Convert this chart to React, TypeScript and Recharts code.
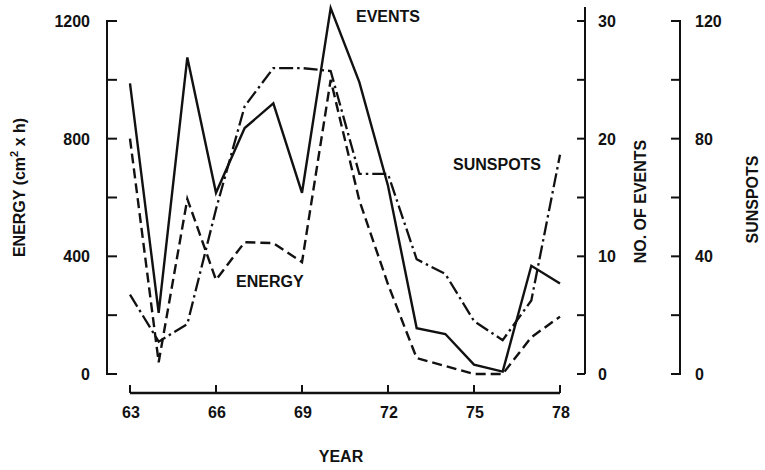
import React from 'react';
import { LineChart, Line, XAxis, YAxis, ReferenceLine, Label } from 'recharts';

const years = [63, 64, 65, 66, 67, 68, 69, 70, 71, 72, 73, 74, 75, 76, 77, 78];
const events = [24.7, 5.2, 26.9, 15.4, 20.9, 23, 15.4, 31.1, 24.8, 16, 3.9, 3.4, 0.8, 0.2, 9.2, 7.7];
const energy = [800, 40, 595, 320, 448, 445, 380, 1000, 590, 305, 54, 27, 0, 0, 125, 195];
const sunspots = [27, 11, 17, 56, 91, 104, 104, 103, 68, 68, 39, 34, 18, 11.5, 25, 74.5];

const yearTicks = [63, 66, 69, 72, 75, 78];
const energyTicks = [0, 200, 400, 600, 800, 1000, 1200];
const energyLabels = [0, 400, 800, 1200];
const eventTicks = [0, 5, 10, 15, 20, 25, 30];
const eventLabels = [0, 10, 20, 30];
const sunspotTicks = [0, 20, 40, 60, 80, 100, 120];
const sunspotLabels = [0, 40, 80, 120];

// axis ranges (the frame rises a little above the top labelled tick)
const energyDomain = [0, 1247.6];
const eventsDomain = [0, 31.19];
const sunDomain = [0, 124.76];
const xAxisBase = -64.6;

const data = years.map((y, i) => ({ year: y, events: events[i], energy: energy[i], sunspots: sunspots[i] }));

const INK = '#111';
const FONT = '"Liberation Sans", Arial, Helvetica, sans-serif';
const txt = { fontFamily: FONT, fontWeight: 700, fontSize: 16, fill: INK } as const;

const XTick = (p: any) => {
  const { x, y, payload } = p;
  return (
    <g>
      <line x1={x} x2={x} y1={y + 11} y2={y + 19} stroke={INK} strokeWidth={2} />
      <text x={x + 1} y={y + 44} textAnchor="middle" {...txt}>{payload.value}</text>
    </g>
  );
};

const EnergyTick = (p: any) => {
  const { x, y, payload } = p;
  return (
    <g>
      {payload.value === 1200 && <line x1={x} x2={x} y1={y - 16} y2={y - 1} stroke="#fff" strokeWidth={5} />}
      <line x1={x - 1} x2={x + 10} y1={y} y2={y} stroke={INK} strokeWidth={2} />
      {energyLabels.includes(payload.value) && (
        <text x={x - 17} y={y + 6} textAnchor="end" {...txt}>{payload.value}</text>
      )}
    </g>
  );
};

const EventTick = (p: any) => {
  const { x, y, payload } = p;
  return (
    <g>
      <line x1={x - 8} x2={x} y1={y} y2={y} stroke={INK} strokeWidth={2} />
      {eventLabels.includes(payload.value) && (
        <text x={x + 13} y={y + 6} textAnchor="start" {...txt}>{payload.value}</text>
      )}
    </g>
  );
};

const SunTick = (p: any) => {
  const { x, y, payload } = p;
  return (
    <g>
      {payload.value === 120 && <line x1={x} x2={x} y1={y - 16} y2={y - 1} stroke="#fff" strokeWidth={5} />}
      <line x1={x - 9} x2={x + 1} y1={y} y2={y} stroke={INK} strokeWidth={2} />
      {sunspotLabels.includes(payload.value) && (
        <text x={x + 15} y={y + 6} textAnchor="start" {...txt}>{payload.value}</text>
      )}
    </g>
  );
};

const EnergyTitle = (p: any) => {
  const vb = p.viewBox || {};
  const cx = vb.x + 25;
  const cy = vb.y + vb.height / 2 - 3;
  return (
    <text x={cx} y={cy} textAnchor="middle" transform={`rotate(-90 ${cx} ${cy})`} {...txt}>
      ENERGY (cm<tspan fontSize={11} dy={-7}>2</tspan><tspan dy={7}> x h)</tspan>
    </text>
  );
};

const EventsTitle = (p: any) => {
  const vb = p.viewBox || {};
  const cx = vb.x + 61;
  const cy = vb.y + vb.height / 2 + 11;
  return (
    <text x={cx} y={cy} textAnchor="middle" transform={`rotate(-90 ${cx} ${cy})`} {...txt}>NO. OF EVENTS</text>
  );
};

const SunTitle = (p: any) => {
  const vb = p.viewBox || {};
  const cx = vb.x + 78;
  const cy = vb.y + vb.height / 2 + 9;
  return (
    <text x={cx} y={cy} textAnchor="middle" transform={`rotate(-90 ${cx} ${cy})`} {...txt}>SUNSPOTS</text>
  );
};

const YearTitle = (p: any) => {
  const vb = p.viewBox || {};
  const cx = vb.x + vb.width / 2 - 5;
  const cy = vb.y + 88;
  return <text x={cx} y={cy} textAnchor="middle" {...txt}>YEAR</text>;
};

export default function App() {
  return (
    <div style={{ position: 'absolute', left: 0, top: 0, width: 765, height: 470, background: '#fff' }}>
      <LineChart width={765} height={470} data={data} margin={{ top: 7, right: 0, bottom: 0, left: 0 }}>
        <XAxis
          dataKey="year"
          type="number"
          domain={[63, 78]}
          ticks={yearTicks}
          padding={{ left: 23, right: 25 }}
          axisLine={false}
          tickLine={false}
          tickSize={0}
          tickMargin={0}
          height={96}
          tick={<XTick />}
          interval={0}
        >
          <Label content={<YearTitle />} />
        </XAxis>
        <YAxis
          yAxisId="energy"
          orientation="left"
          width={107}
          domain={energyDomain}
          ticks={energyTicks}
          axisLine={{ stroke: INK, strokeWidth: 2 }}
          tickLine={false}
          tickSize={0}
          tickMargin={0}
          tick={<EnergyTick />}
          interval={0}
        >
          <Label content={<EnergyTitle />} />
        </YAxis>
        <YAxis
          yAxisId="events"
          orientation="right"
          width={95}
          domain={eventsDomain}
          ticks={eventTicks}
          axisLine={{ stroke: INK, strokeWidth: 2 }}
          tickLine={false}
          tickSize={0}
          tickMargin={0}
          tick={<EventTick />}
          interval={0}
        >
          <Label content={<EventsTitle />} />
        </YAxis>
        <YAxis
          yAxisId="sun"
          orientation="right"
          width={85}
          domain={sunDomain}
          ticks={sunspotTicks}
          axisLine={{ stroke: INK, strokeWidth: 2 }}
          tickLine={false}
          tickSize={0}
          tickMargin={0}
          tick={<SunTick />}
          interval={0}
        >
          <Label content={<SunTitle />} />
        </YAxis>
        <ReferenceLine
          yAxisId="energy"
          segment={[{ x: 63, y: xAxisBase }, { x: 78, y: xAxisBase }]}
          stroke={INK}
          strokeWidth={2.5}
          ifOverflow="visible"
        />
        <Line yAxisId="sun" dataKey="sunspots" type="linear" stroke={INK} strokeWidth={2.3} strokeDasharray="14 4 2.5 4" dot={false} isAnimationActive={false} />
        <Line yAxisId="energy" dataKey="energy" type="linear" stroke={INK} strokeWidth={2.4} strokeDasharray="10 5" dot={false} isAnimationActive={false} />
        <Line yAxisId="events" dataKey="events" type="linear" stroke={INK} strokeWidth={2.4} dot={false} isAnimationActive={false} />
      </LineChart>
      <svg width={765} height={470} style={{ position: 'absolute', left: 0, top: 0, pointerEvents: 'none' }}>
        <text x={356} y={22} {...txt}>EVENTS</text>
        <text x={453} y={170} {...txt}>SUNSPOTS</text>
        <text x={236} y={287} {...txt}>ENERGY</text>
      </svg>
    </div>
  );
}
